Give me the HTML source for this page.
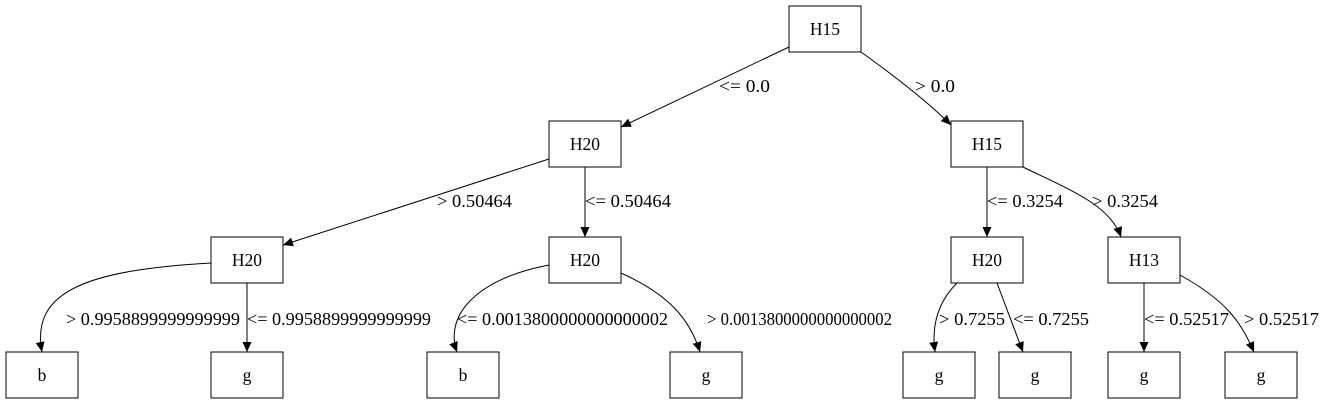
<!DOCTYPE html>
<html><head><meta charset="utf-8"><style>
html,body{margin:0;padding:0;background:#fff;}
svg text{font-family:"Liberation Serif",serif;font-size:17.5px;fill:#000;}
</style></head><body>
<svg width="1327" height="407" viewBox="0 0 1327 407" xmlns="http://www.w3.org/2000/svg">
<defs><marker id="a" markerWidth="10" markerHeight="10" refX="10" refY="5" orient="auto" markerUnits="userSpaceOnUse"><path d="M0,0.5 L10,5 L0,9.5 z" fill="#000"/></marker></defs>
<g fill="none" stroke="#000" stroke-width="1">
<rect x="789" y="6" width="72" height="46"/>
<rect x="549" y="121" width="72" height="46"/>
<rect x="951" y="121" width="72" height="46"/>
<rect x="211" y="237" width="72" height="46"/>
<rect x="549" y="237" width="72" height="46"/>
<rect x="951" y="237" width="72" height="46"/>
<rect x="1108" y="237" width="72" height="46"/>
<rect x="6" y="352" width="72" height="46"/>
<rect x="211" y="352" width="72" height="46"/>
<rect x="427" y="352" width="72" height="46"/>
<rect x="670" y="352" width="72" height="46"/>
<rect x="903" y="352" width="72" height="46"/>
<rect x="999" y="352" width="72" height="46"/>
<rect x="1108" y="352" width="72" height="46"/>
<rect x="1225" y="352" width="72" height="46"/>
<g marker-end="url(#a)">
<path d="M789,47 L621,127"/>
<path d="M861,52 C900,80 930,104 951,125"/>
<path d="M549,159 L283,245"/>
<path d="M585,167 L585,237"/>
<path d="M987,167 L987,237"/>
<path d="M1023,167 C1070,190 1110,205 1121,237"/>
<path d="M211,263 C90,270 30,290 42,352"/>
<path d="M247,283 L247,352"/>
<path d="M549,265 C470,280 445,320 457,352"/>
<path d="M621,273 C670,295 690,320 700,352"/>
<path d="M957,283 C935,305 932,330 935,352"/>
<path d="M997,283 L1023,352"/>
<path d="M1144,283 L1144,352"/>
<path d="M1180,275 C1225,300 1240,320 1254,352"/>
</g></g>
<g text-anchor="middle">
<text x="825" y="35">H15</text>
<text x="585" y="150">H20</text>
<text x="987" y="150">H15</text>
<text x="247" y="266">H20</text>
<text x="585" y="266">H20</text>
<text x="987" y="266">H20</text>
<text x="1144" y="266">H13</text>
<text x="42" y="381">b</text>
<text x="247" y="381">g</text>
<text x="463" y="381">b</text>
<text x="706" y="381">g</text>
<text x="939" y="381">g</text>
<text x="1035" y="381">g</text>
<text x="1144" y="381">g</text>
<text x="1261" y="381">g</text>
</g>
<text x="719" y="92" textLength="51" lengthAdjust="spacingAndGlyphs">&lt;= 0.0</text>
<text x="915" y="92" textLength="40" lengthAdjust="spacingAndGlyphs">&gt; 0.0</text>
<text x="437" y="207" textLength="75" lengthAdjust="spacingAndGlyphs">&gt; 0.50464</text>
<text x="585" y="207" textLength="86" lengthAdjust="spacingAndGlyphs">&lt;= 0.50464</text>
<text x="987" y="207" textLength="76" lengthAdjust="spacingAndGlyphs">&lt;= 0.3254</text>
<text x="1092" y="207" textLength="66" lengthAdjust="spacingAndGlyphs">&gt; 0.3254</text>
<text x="66" y="325" textLength="174" lengthAdjust="spacingAndGlyphs">&gt; 0.9958899999999999</text>
<text x="247" y="325" textLength="184" lengthAdjust="spacingAndGlyphs">&lt;= 0.9958899999999999</text>
<text x="457" y="325" textLength="211" lengthAdjust="spacingAndGlyphs">&lt;= 0.0013800000000000002</text>
<text x="707" y="325" textLength="185" lengthAdjust="spacingAndGlyphs">&gt; 0.0013800000000000002</text>
<text x="939" y="325" textLength="66" lengthAdjust="spacingAndGlyphs">&gt; 0.7255</text>
<text x="1013" y="325" textLength="76" lengthAdjust="spacingAndGlyphs">&lt;= 0.7255</text>
<text x="1144" y="325" textLength="85" lengthAdjust="spacingAndGlyphs">&lt;= 0.52517</text>
<text x="1244" y="325" textLength="75" lengthAdjust="spacingAndGlyphs">&gt; 0.52517</text>
</svg>
</body></html>
